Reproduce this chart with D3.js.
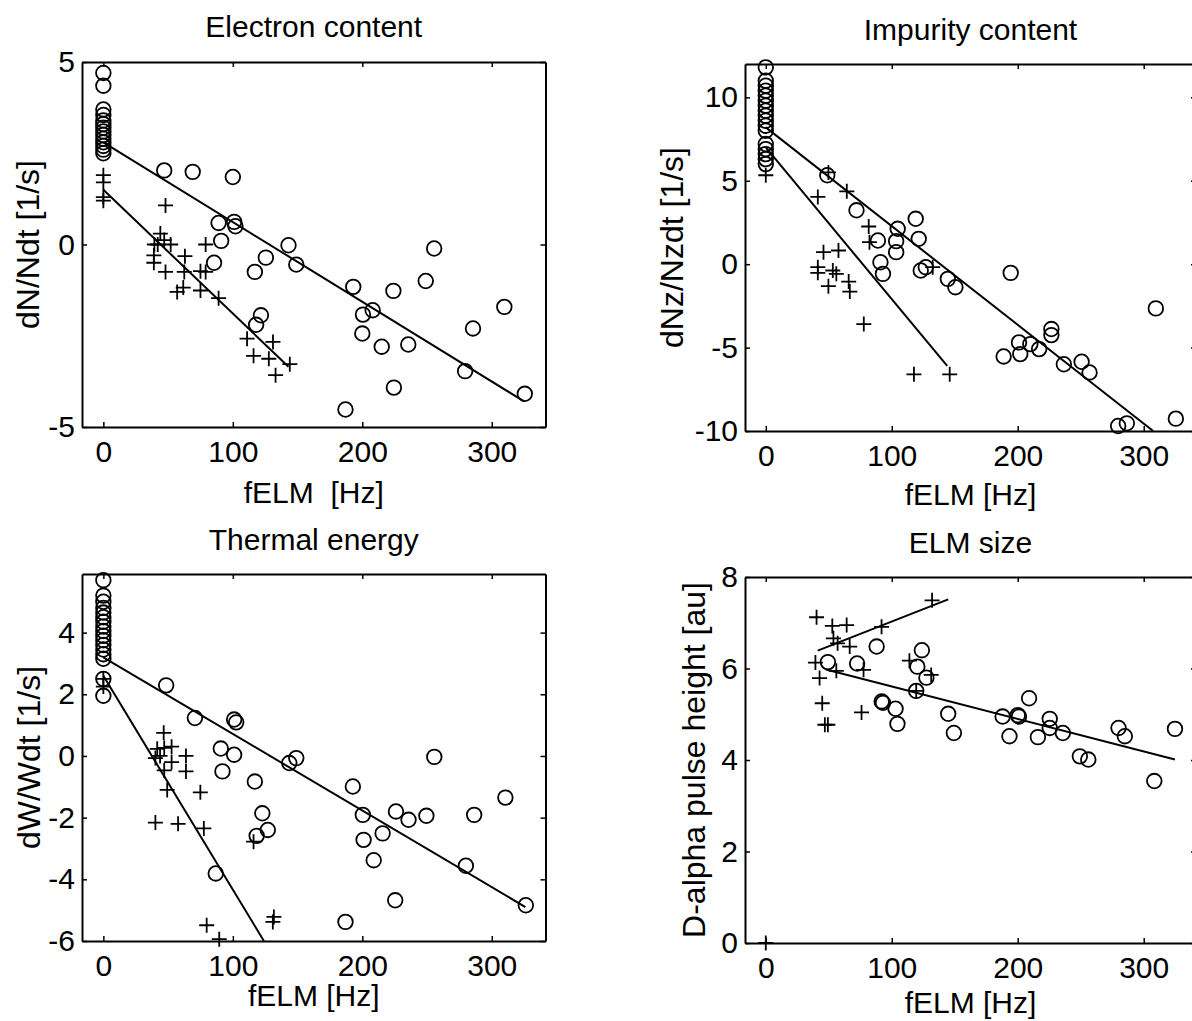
<!DOCTYPE html>
<html>
<head>
<meta charset="utf-8">
<script src="https://cdn.jsdelivr.net/npm/d3@7"></script>
<style>
  body { margin: 0; background: #fff; }
  svg { font-family: "Liberation Sans", Arial, Helvetica, sans-serif; }
</style>
</head>
<body>
<div id="chart"></div>
<script>
// ---- data (x = fELM in Hz) ----

// Electron content
const elecCircX = [0,0,0,0,0,0,0,0,0,0,0,0,0,0,
  47,69,100,89,101,102,91,85.5,125.5,117,143,149,121.7,118,193,200.5,208,200,215,235.5,224,249,255.5,309.7,285.5,279.4,224.4,187,325.5];
const elecCircY = [4.7,4.35,3.7,3.55,3.4,3.3,3.2,3.1,3.0,2.9,2.8,2.7,2.6,2.5,
  2.03,1.99,1.85,0.59,0.62,0.5,0.1,-0.5,-0.36,-0.75,-0.02,-0.55,-1.94,-2.2,-1.16,-1.92,-1.8,-2.44,-2.8,-2.74,-1.27,-1.0,-0.11,-1.71,-2.3,-3.47,-3.92,-4.52,-4.09];
const elecPlusX = [0,0,0,0,48,44,47,39.4,42,52,79,39,39,63,48,62.5,75,79,57,61.7,75,89,111,131,116,127.8,144,133];
const elecPlusY = [1.9,1.7,1.3,1.2,1.07,0.3,0.12,0,0,0,0,-0.3,-0.5,-0.32,-0.75,-0.75,-0.73,-0.75,-1.3,-1.18,-1.26,-1.47,-2.58,-2.67,-3.05,-3.13,-3.28,-3.58];
const elecFitCircX = [0, 325], elecFitCircY = [2.8, -4.3];
const elecFitPlusX = [0, 143], elecFitPlusY = [1.5, -3.35];

// Impurity content
const impCircX = [0,0,0,0,0,0,0,0,0,0,0,0,0,0,0,0,0,
  48.8,72,89,91,93,103.5,103.5,104.7,119,121.4,123,127,144.5,150.5,194.4,188.8,202,201,210,217,226.7,226.7,236.6,250.7,257,279.7,286.6,309.6,325.5];
const impCircY = [11.8,11.0,10.7,10.4,10.1,9.8,9.5,9.2,8.9,8.6,8.3,8.0,7.2,6.9,6.6,6.3,6.0,
  5.33,3.23,1.42,0.12,-0.58,0.72,1.38,2.12,2.72,1.52,-0.38,-0.18,-0.88,-1.38,-0.52,-5.53,-5.39,-4.69,-4.79,-5.09,-3.89,-4.25,-6.0,-5.85,-6.49,-9.7,-9.54,-2.65,-9.26];
const impPlusX = [0,49.7,41.3,64.3,81.7,82.3,45.8,57.7,41.3,41.3,53.2,56,49.7,65.8,66.7,77.8,117.6,146,132.5];
const impPlusY = [5.33,5.5,4.03,4.37,2.26,1.32,0.72,0.82,-0.18,-0.52,-0.38,-0.58,-1.32,-1.04,-1.64,-3.59,-6.6,-6.6,-0.18];
const impFitCircX = [0, 307.5], impFitCircY = [8.2, -10];
const impFitPlusX = [0, 144], impFitPlusY = [7.0, -6.1];

// Thermal energy
const thermCircX = [0,0,0,0,0,0,0,0,0,0,0,0,0,0,0,0,0,
  48.5,70.7,101,102.6,90.7,101,92,117,122.8,127,118.4,86.8,143.6,149,192.7,200.4,201,215.7,208.8,226,235.7,249.5,255.6,225.4,187,280,286.4,310.5,326.3];
const thermCircY = [5.7,5.2,5.0,4.8,4.65,4.5,4.35,4.2,4.05,3.9,3.75,3.6,3.45,3.3,3.15,2.5,1.95,
  2.29,1.23,1.18,1.09,0.24,0.04,-0.5,-0.83,-1.86,-2.4,-2.59,-3.81,-0.23,-0.07,-0.99,-1.91,-2.72,-2.51,-3.38,-1.8,-2.07,-1.94,-0.03,-4.68,-5.38,-3.56,-1.91,-1.35,-4.84];
const thermPlusX = [0,0,46.6,41.6,47,52.7,40.2,43.8,63.8,52.7,63.8,47,49.3,74.9,40.2,57.7,77.6,79.8,89.5,131.7,130.9,116];
const thermPlusY = [2.5,2.25,0.75,0.23,0.26,0.3,-0.07,0,0,-0.2,-0.5,-0.47,-1.1,-1.18,-2.16,-2.2,-2.35,-5.49,-5.94,-5.22,-5.38,-2.78];
const thermFitCircX = [0, 326], thermFitCircY = [3.2, -4.9];
const thermFitPlusX = [0, 124], thermFitPlusY = [2.6, -6];

// ELM size
const sizeCircX = [49.3,72.5,88,92,93,103,104.5,123.9,120.3,127.5,119.4,144.8,149.3,188,200,201,209,193.4,216,225.4,225.4,235.8,249.3,256,280,285,308.4,324.8];
const sizeCircY = [6.14,6.11,6.48,5.28,5.25,5.12,4.79,6.4,6.04,5.8,5.51,5.01,4.59,4.95,4.98,4.95,5.35,4.52,4.5,4.9,4.7,4.59,4.08,4.01,4.7,4.52,3.54,4.68];
const sizePlusX = [40.3,52.8,64.2,53.7,57,66.6,39.4,56,77.6,42.7,44.8,46.9,49.3,76,91.9,132,114,131.3,119.4,0];
const sizePlusY = [7.12,6.93,6.95,6.66,6.55,6.48,6.13,5.95,5.97,5.79,5.24,4.77,4.77,5.04,6.91,7.49,6.17,5.86,5.51,0];
const sizeFitCircX = [47.8, 324.8], sizeFitCircY = [5.98, 4.01];
const sizeFitPlusX = [41.2, 144.8], sizeFitPlusY = [6.39, 7.51];

const xTicks = [0, 100, 200, 300];

const zip = (xs, ys) => xs.map((x, i) => [x, ys[i]]);

const panels = [
  { title: "Electron content", xlabel: "fELM  [Hz]", ylabel: "dN/Ndt [1/s]",
    yDomain: [-5, 5], yTicks: [-5, 0, 5],
    box: { l: 82, r: 545.5, t: 62, b: 427 }, titleY: 37, xlabY: 503, ylabX: 39,
    circ: zip(elecCircX, elecCircY), plus: zip(elecPlusX, elecPlusY),
    fits: [zip(elecFitCircX, elecFitCircY), zip(elecFitPlusX, elecFitPlusY)] },
  { title: "Impurity content", xlabel: "fELM [Hz]", ylabel: "dNz/Nzdt [1/s]",
    yDomain: [-10, 12], yTicks: [-10, -5, 0, 5, 10],
    box: { l: 745, r: 1196, t: 64, b: 431 }, titleY: 40, xlabY: 505, ylabX: 683,
    circ: zip(impCircX, impCircY), plus: zip(impPlusX, impPlusY),
    fits: [zip(impFitCircX, impFitCircY), zip(impFitPlusX, impFitPlusY)] },
  { title: "Thermal energy", xlabel: "fELM [Hz]", ylabel: "dW/Wdt [1/s]",
    yDomain: [-6, 5.9], yTicks: [-6, -4, -2, 0, 2, 4],
    box: { l: 82, r: 545.5, t: 574, b: 941 }, titleY: 550, xlabY: 1006, ylabX: 40,
    circ: zip(thermCircX, thermCircY), plus: zip(thermPlusX, thermPlusY),
    fits: [zip(thermFitCircX, thermFitCircY), zip(thermFitPlusX, thermFitPlusY)] },
  { title: "ELM size", xlabel: "fELM [Hz]", ylabel: "D-alpha pulse height [au]",
    yDomain: [0, 8], yTicks: [0, 2, 4, 6, 8],
    box: { l: 745, r: 1196, t: 577, b: 943 }, titleY: 553, xlabY: 1013, ylabX: 705,
    circ: zip(sizeCircX, sizeCircY), plus: zip(sizePlusX, sizePlusY),
    fits: [zip(sizeFitCircX, sizeFitCircY), zip(sizeFitPlusX, sizeFitPlusY)] }
];

const svg = d3.select("#chart")
  .append("svg")
  .attr("width", 1192)
  .attr("height", 1021);

// plain hyphen for negatives, like the original plot
const fmt = d => String(d);

panels.forEach(p => {
  const b = p.box;
  const x = d3.scaleLinear().domain([-16.5, 341.5]).range([b.l, b.r]);
  const y = d3.scaleLinear().domain(p.yDomain).range([b.b, b.t]);
  const g = svg.append("g");

  // axes: ticks pointing inward on all four sides, MATLAB style
  const styleAxis = sel => {
    sel.selectAll("path.domain").attr("stroke", "#000").attr("stroke-width", 2);
    sel.selectAll(".tick line").attr("stroke", "#000").attr("stroke-width", 1.5);
    sel.selectAll(".tick text").attr("fill", "#000").style("font-size", "30px");
  };
  g.append("g").attr("transform", `translate(0,${b.b})`)
    .call(d3.axisBottom(x).tickValues(xTicks).tickFormat(fmt).tickSizeInner(-5).tickSizeOuter(0).tickPadding(14))
    .call(styleAxis);
  g.append("g").attr("transform", `translate(0,${b.t})`)
    .call(d3.axisTop(x).tickValues(xTicks).tickSizeInner(-5).tickSizeOuter(0).tickFormat(""))
    .call(styleAxis);
  g.append("g").attr("transform", `translate(${b.l},0)`)
    .call(d3.axisLeft(y).tickValues(p.yTicks).tickFormat(fmt).tickSizeInner(-5).tickSizeOuter(0).tickPadding(7))
    .call(styleAxis);
  g.append("g").attr("transform", `translate(${b.r},0)`)
    .call(d3.axisRight(y).tickValues(p.yTicks).tickSizeInner(-5).tickSizeOuter(0).tickFormat(""))
    .call(styleAxis);
  g.selectAll("g > g").attr("font-family", null);

  // fit lines
  const line = d3.line().x(d => x(d[0])).y(d => y(d[1]));
  g.selectAll(".fit").data(p.fits).enter().append("path")
    .attr("class", "fit")
    .attr("d", line)
    .attr("fill", "none")
    .attr("stroke", "#000")
    .attr("stroke-width", 2);

  // circles
  g.selectAll(".circ").data(p.circ).enter().append("circle")
    .attr("class", "circ")
    .attr("cx", d => x(d[0]))
    .attr("cy", d => y(d[1]))
    .attr("r", 7.3)
    .attr("fill", "none")
    .attr("stroke", "#000")
    .attr("stroke-width", 1.8);

  // plus markers
  const s = 7.5;
  g.selectAll(".plus").data(p.plus).enter().append("path")
    .attr("class", "plus")
    .attr("d", d => {
      const cx = x(d[0]), cy = y(d[1]);
      return `M${cx - s},${cy}H${cx + s}M${cx},${cy - s}V${cy + s}`;
    })
    .attr("stroke", "#000")
    .attr("stroke-width", 1.8);

  // labels
  const cx = (b.l + b.r) / 2, cy = (b.t + b.b) / 2;
  g.append("text").attr("x", cx).attr("y", p.titleY)
    .attr("text-anchor", "middle").style("font-size", "30px").text(p.title);
  g.append("text").attr("x", cx).attr("y", p.xlabY)
    .attr("text-anchor", "middle").style("font-size", "30px")
    .style("white-space", "pre").text(p.xlabel);
  g.append("text").attr("transform", `translate(${p.ylabX},${cy}) rotate(-90)`)
    .attr("text-anchor", "middle").style("font-size", "32px").text(p.ylabel);
});
</script>
</body>
</html>
